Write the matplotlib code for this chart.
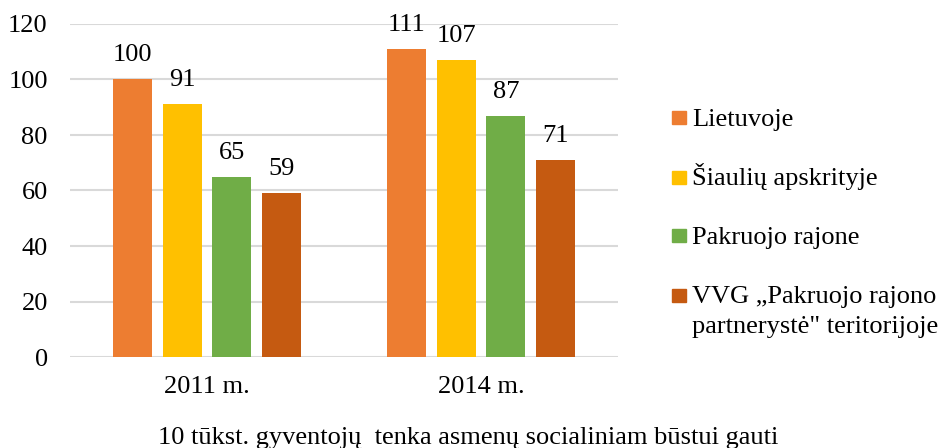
import numpy as np
import matplotlib
matplotlib.use("Agg")
import matplotlib.pyplot as plt
from matplotlib.patches import Rectangle

plt.rcParams['font.family'] = ['Liberation Serif', 'DejaVu Serif']
plt.rcParams['font.size'] = 19

# data
years = ['2011 m.', '2014 m.']
series = ['Lietuvoje',
          'Šiaulių apskrityje',
          'Pakruojo rajone',
          'VVG „Pakruojo rajono\npartnerystė" teritorijoje']
lietuvoje = [100, 111]
siauliu = [91, 107]
pakruojo = [65, 87]
vvg = [59, 71]
colors = ['#ED7D31', '#FFC000', '#70AD47', '#C55A11']
caption = '10 tūkst. gyventojų  tenka asmenų socialiniam būstui gauti'

W, H = 941, 448
fig = plt.figure(figsize=(W / 100, H / 100), dpi=100)
ax = fig.add_axes([70 / W, 1 - 357 / H, 548 / W, 333 / H])

x = np.arange(len(years))
step = 0.181
width = 0.142
values = [lietuvoje, siauliu, pakruojo, vvg]
for i, (vals, c) in enumerate(zip(values, colors)):
    off = (i - 1.5) * step
    bars = ax.bar(x + off, vals, width, color=c, zorder=3)
    for b, v in zip(bars, vals):
        ax.annotate(str(v), (b.get_x() + b.get_width() / 2, v),
                    xytext=(0, 13), textcoords='offset points',
                    ha='center', va='baseline')

ax.set_xlim(-0.5, 1.5)
ax.set_ylim(0, 120)
ax.set_yticks(range(0, 121, 20))
ax.set_xticks(x)
ax.set_xticklabels(years)
ax.tick_params(length=0)
ax.tick_params(axis='x', pad=14)
ax.tick_params(axis='y', pad=16)
ax.yaxis.grid(True, color='#D9D9D9', linewidth=1.5, zorder=0)
for s in ax.spines.values():
    s.set_visible(False)

# legend, drawn by hand so the two-line entry keeps its marker on the first line
leg_y = [117, 177, 235, 295]
for name, c, yc in zip(series, colors, leg_y):
    fig.patches.append(Rectangle((672 / W, 1 - (yc + 7) / H), 14 / W, 13 / H,
                                 color=c, transform=fig.transFigure))
    for k, line in enumerate(name.split('\n')):
        fig.text(692 / W, 1 - (yc + 8.5 + 29 * k) / H, line,
                 ha='left', va='baseline')

fig.text(468 / W, 1 - 444 / H, caption, ha='center', va='baseline')

fig.savefig('out.png', dpi=100)
